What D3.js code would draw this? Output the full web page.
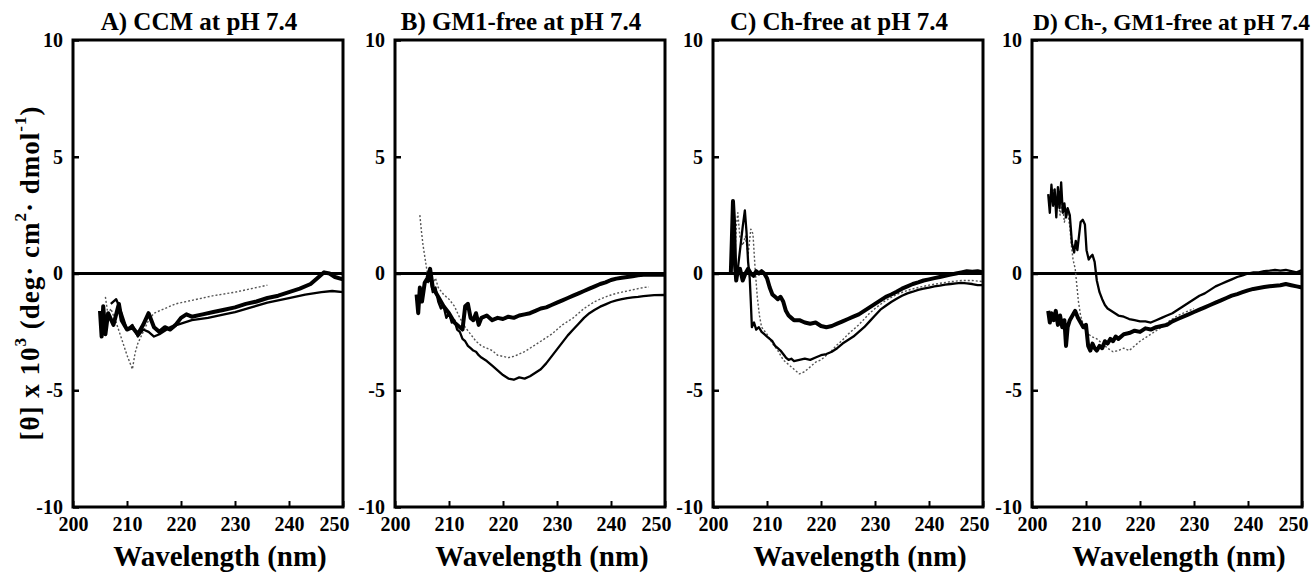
<!DOCTYPE html>
<html>
<head>
<meta charset="utf-8">
<script src="https://cdn.jsdelivr.net/npm/d3@7/dist/d3.min.js"></script>
<style>
    body { margin: 0; background: #fff; }
    text { font-family: "Liberation Serif", "Times New Roman", serif; font-weight: bold; fill: #000; }
</style>
</head>
<body>
<div id="chart"></div>
<script>

// axis ticks
const wavelengthTicks = [200, 210, 220, 230, 240, 250];
const thetaTicks = [10, 5, 0, -5, -10];

// panel titles
const panelTitles = ["A) CCM at pH 7.4", "B) GM1-free at pH 7.4", "C) Ch-free at pH 7.4", "D) Ch-, GM1-free at pH 7.4"];

// curves: [wavelength nm, theta x 10^3]
const curveA1 = [[205,-1.6],[205.3,-2.7],[205.6,-1.4],[206,-2.6],[206.5,-1.7],[207.5,-2.2],[208.5,-1.3],[209,-2.0],[210,-2.4],[211,-2.3],[212,-2.6],[213,-2.2],[214,-1.7],[215,-2.3],[216,-2.5],[217,-2.3],[218,-2.4],[219,-2.2],[220,-1.9],[221,-1.75],[222,-1.85],[224,-1.75],[226,-1.65],[228,-1.55],[230,-1.45],[232,-1.3],[234,-1.2],[236,-1.05],[238,-0.95],[240,-0.8],[242,-0.65],[244,-0.45],[245.5,-0.15],[246.5,0.05],[247.5,0.0],[248.5,-0.15],[250,-0.25]];
const curveA2 = [[207,-1.3],[208,-1.1],[209,-1.7],[210,-2.4],[211,-2.2],[212,-2.7],[213,-2.4],[214,-2.5],[215,-2.7],[216,-2.6],[217,-2.45],[218,-2.3],[220,-2.15],[222,-2.0],[225,-1.9],[228,-1.75],[230,-1.65],[233,-1.45],[236,-1.25],[240,-1.05],[243,-0.9],[246,-0.8],[248,-0.75],[250,-0.8]];
const curveA3 = [[206,-1.0],[206.5,-1.8],[207,-1.5],[208,-2.1],[209,-2.8],[210,-3.5],[211,-4.1],[211.5,-3.4],[212,-3.0],[213,-2.5],[214,-2.0],[215,-1.7],[217,-1.5],[219,-1.3],[222,-1.15],[226,-0.95],[230,-0.8],[234,-0.6],[236,-0.5]];

const curveB1 = [[204,-0.9],[204.3,-1.7],[204.6,-0.6],[205,-1.2],[205.5,-0.4],[206,-0.2],[206.5,0.2],[207,-0.6],[208,-1.0],[209,-1.4],[210,-1.7],[211,-2.1],[212,-2.3],[212.5,-2.4],[213,-1.4],[213.5,-1.3],[214,-1.9],[214.5,-2.0],[215,-1.7],[215.5,-2.2],[216,-1.9],[217,-1.8],[218,-2.0],[219,-1.9],[220,-1.95],[221,-1.85],[222,-1.9],[223,-1.8],[224,-1.75],[225,-1.7],[226,-1.6],[227,-1.5],[228,-1.45],[229,-1.35],[230,-1.25],[231,-1.15],[232,-1.05],[233,-0.95],[234,-0.85],[235,-0.75],[236,-0.65],[237,-0.55],[238,-0.45],[239,-0.38],[240,-0.28],[241,-0.22],[242,-0.18],[243,-0.15],[244,-0.12],[245,-0.08],[246,-0.05],[248,-0.05],[250,-0.05]];
const curveB2 = [[206,-0.4],[206.5,-0.2],[207,-0.8],[207.5,-0.6],[208,-1.2],[208.5,-1.5],[209,-1.4],[209.5,-1.9],[210,-1.7],[210.5,-2.1],[211,-2.0],[211.5,-2.4],[212,-2.5],[212.5,-2.8],[213,-2.9],[213.5,-3.1],[214,-3.2],[214.5,-3.3],[215,-3.35],[215.5,-3.5],[216,-3.6],[217,-3.75],[218,-3.95],[219,-4.15],[220,-4.35],[221,-4.5],[222,-4.55],[223,-4.45],[224,-4.5],[225,-4.4],[226,-4.25],[227,-4.1],[228,-3.85],[229,-3.55],[230,-3.25],[231,-2.95],[232,-2.65],[233,-2.4],[234,-2.15],[235,-1.9],[236,-1.7],[237,-1.55],[238,-1.42],[239,-1.32],[240,-1.22],[241,-1.15],[242,-1.1],[243,-1.05],[244,-1.02],[245,-1.0],[246,-0.97],[247,-0.95],[248,-0.93],[250,-0.92]];
const curveB3 = [[204.6,2.5],[204.9,1.8],[205.2,1.2],[205.6,0.6],[206,0.0],[206.5,-0.3],[207,-0.4],[207.5,-0.2],[208,-0.6],[209,-0.9],[210,-1.1],[211,-1.4],[212,-1.9],[213,-2.3],[214,-2.6],[215,-2.9],[216,-3.1],[217,-3.2],[218,-3.3],[219,-3.5],[220,-3.55],[221,-3.6],[222,-3.55],[223,-3.45],[224,-3.35],[225,-3.2],[226,-3.05],[227,-2.9],[228,-2.75],[229,-2.6],[230,-2.4],[231,-2.2],[232,-2.05],[233,-1.9],[234,-1.7],[235,-1.5],[236,-1.35],[237,-1.2],[238,-1.1],[239,-1.0],[240,-0.92],[241,-0.85],[242,-0.8],[243,-0.75],[244,-0.7],[245,-0.65],[246,-0.6],[247,-0.58]];

const curveC1 = [[203.3,0.0],[203.5,1.5],[203.7,3.1],[203.9,2.2],[204.1,0.3],[204.3,-0.3],[204.5,0.0],[205,0.2],[205.5,-0.3],[206,0.0],[206.5,0.2],[207,0.0],[207.5,-0.1],[208,0.1],[208.5,0.0],[209,0.1],[209.5,0.0],[210,-0.2],[210.5,-0.6],[211,-0.9],[211.5,-1.0],[212,-1.1],[212.5,-1.0],[213,-1.2],[213.5,-1.6],[214,-1.8],[214.5,-1.9],[215,-2.0],[216,-2.0],[217,-2.1],[218,-2.15],[219,-2.1],[220,-2.25],[221,-2.3],[222,-2.25],[223,-2.15],[224,-2.05],[225,-1.95],[226,-1.85],[227,-1.75],[228,-1.6],[229,-1.45],[230,-1.3],[231,-1.15],[232,-1.0],[233,-0.9],[234,-0.78],[235,-0.65],[236,-0.55],[237,-0.45],[238,-0.38],[239,-0.3],[240,-0.25],[241,-0.2],[242,-0.15],[243,-0.1],[244,-0.05],[245,0.0],[246,0.05],[247,0.1],[248,0.08],[249,0.1],[250,0.05]];
const curveC2 = [[204.5,0.0],[205,1.0],[205.5,2.0],[205.9,2.7],[206.2,1.8],[206.5,0.5],[206.8,-0.2],[207,-1.2],[207.2,-2.3],[207.6,-2.1],[208,-2.4],[208.5,-2.3],[209,-2.5],[209.5,-2.6],[210,-2.7],[210.5,-2.8],[211,-2.9],[211.5,-3.1],[212,-3.2],[212.5,-3.3],[213,-3.45],[213.5,-3.6],[214,-3.7],[214.5,-3.65],[215,-3.75],[216,-3.7],[217,-3.65],[218,-3.7],[219,-3.6],[220,-3.5],[221,-3.45],[222,-3.35],[223,-3.2],[224,-3.0],[225,-2.85],[226,-2.7],[227,-2.5],[228,-2.3],[229,-2.05],[230,-1.8],[231,-1.55],[232,-1.38],[233,-1.22],[234,-1.08],[235,-0.95],[236,-0.85],[237,-0.78],[238,-0.7],[239,-0.65],[240,-0.6],[241,-0.55],[242,-0.52],[243,-0.48],[244,-0.45],[245,-0.42],[246,-0.4],[247,-0.42],[248,-0.45],[249,-0.5],[250,-0.5]];
const curveC3 = [[204,0.5],[204.3,2.0],[204.6,2.6],[205,1.5],[205.5,1.2],[206,1.6],[206.5,0.8],[207,1.9],[207.4,1.7],[207.8,0.2],[208.2,-1.0],[208.6,-1.8],[209,-2.3],[210,-2.6],[211,-3.0],[212,-3.3],[213,-3.7],[214,-3.9],[215,-4.1],[216,-4.3],[217,-4.2],[218,-4.0],[219,-3.8],[220,-3.7],[221,-3.5],[222,-3.3],[223,-3.05],[224,-2.85],[225,-2.6],[226,-2.4],[227,-2.2],[228,-1.95],[229,-1.7],[230,-1.5],[232,-1.15],[234,-0.9],[236,-0.72],[238,-0.6],[240,-0.5],[242,-0.42],[244,-0.35],[246,-0.3],[248,-0.3],[250,-0.35]];

const curveD1 = [[203,3.4],[203.3,2.6],[203.6,3.8],[203.9,2.9],[204.2,3.6],[204.5,2.4],[204.8,3.7],[205.1,2.8],[205.4,3.9],[205.7,2.6],[206,3.0],[206.3,2.4],[206.6,2.8],[207,2.5],[207.4,1.3],[207.8,0.9],[208.1,1.4],[208.4,1.0],[208.7,1.6],[209,2.2],[209.4,2.3],[209.8,2.1],[210.1,1.0],[210.5,0.6],[210.8,0.7],[211.2,0.8],[211.6,0.5],[212,-0.3],[212.5,-0.8],[213,-1.1],[213.5,-1.35],[214,-1.5],[215,-1.65],[216,-1.8],[217,-1.85],[218,-1.95],[219,-2.0],[220,-2.05],[221,-2.05],[222,-2.1],[223,-2.0],[224,-1.9],[225,-1.8],[226,-1.7],[227,-1.55],[228,-1.4],[229,-1.25],[230,-1.1],[231,-0.95],[232,-0.85],[233,-0.7],[234,-0.55],[235,-0.45],[236,-0.35],[237,-0.25],[238,-0.15],[239,-0.08],[240,0.0],[241,0.05],[242,0.05],[243,0.1],[244,0.12],[245,0.15],[246,0.12],[247,0.15],[248,0.1],[249,0.05],[250,0.15]];
const curveD2 = [[203,-1.6],[203.3,-2.1],[203.6,-1.7],[204,-2.0],[204.4,-1.6],[204.8,-2.2],[205.2,-1.8],[205.6,-2.3],[206,-2.0],[206.3,-3.1],[206.6,-2.3],[207,-2.0],[207.5,-1.8],[208,-1.6],[208.5,-1.9],[209,-2.1],[209.5,-2.3],[210,-2.2],[210.4,-3.1],[210.8,-3.3],[211.2,-3.0],[211.6,-3.2],[212,-3.3],[212.5,-3.1],[213,-3.2],[213.5,-2.9],[214,-3.0],[214.5,-2.8],[215,-2.9],[215.5,-2.7],[216,-2.8],[217,-2.6],[218,-2.55],[219,-2.45],[220,-2.5],[221,-2.35],[222,-2.4],[223,-2.3],[224,-2.25],[225,-2.2],[226,-2.05],[227,-1.95],[228,-1.85],[229,-1.75],[230,-1.65],[231,-1.55],[232,-1.45],[233,-1.35],[234,-1.25],[235,-1.15],[236,-1.05],[237,-0.95],[238,-0.88],[239,-0.8],[240,-0.72],[241,-0.66],[242,-0.62],[243,-0.58],[244,-0.55],[245,-0.52],[246,-0.5],[247,-0.45],[248,-0.5],[249,-0.55],[250,-0.6]];
const curveD3 = [[204,3.6],[204.4,2.8],[204.8,3.3],[205.2,2.5],[205.6,3.0],[206,2.2],[206.5,2.8],[207,2.0],[207.3,1.2],[207.6,0.6],[208,0.2],[208.3,-0.5],[208.6,-1.2],[209,-1.8],[209.5,-2.2],[210,-2.5],[211,-2.7],[212,-2.8],[213,-3.0],[214,-3.2],[215,-3.35],[216,-3.3],[217,-3.2],[218,-3.3],[219,-3.1],[220,-2.9],[221,-2.75],[222,-2.6],[223,-2.45],[224,-2.3],[225,-2.1],[226,-1.95],[227,-1.8],[228,-1.7],[229,-1.6],[230,-1.5]];

// line styles: thick, medium, dotted grey
const lineStyles = [
    {width: 4, color: '#000', dash: null},
    {width: 2.3, color: '#000', dash: null},
    {width: 1.4, color: '#555', dash: '2,2'}
];


class CdPanel {

    constructor(svg, left, title, curves) {
        this.svg = svg;
        this.left = left;
        this.title = title;
        this.curves = curves;

        this.initVis();
    }

    initVis() {
        let vis = this;

        vis.top = 40;
        vis.width = 270;
        vis.height = 467;

        vis.g = vis.svg.append('g')
            .attr('transform', `translate(${vis.left}, ${vis.top})`);

        vis.x = d3.scaleLinear().domain([200, 250]).range([0, vis.width]);
        vis.y = d3.scaleLinear().domain([-10, 10]).range([vis.height, 0]);

        // title (the long one is pushed right so it clears the "10" label)
        let longTitle = vis.title.length > 22;
        vis.g.append('text')
            .attr('x', longTitle ? vis.width + 8 : vis.width / 2 - 9)
            .attr('y', -10)
            .attr('text-anchor', longTitle ? 'end' : 'middle')
            .attr('font-size', longTitle ? 23.5 : 25)
            .text(vis.title);

        // x axis, ticks point inward
        vis.xAxis = d3.axisBottom(vis.x)
            .tickValues(wavelengthTicks)
            .tickSizeInner(-6)
            .tickSizeOuter(0)
            .tickPadding(10)
            .tickFormat(d => String(d));

        vis.g.append('g')
            .attr('class', 'x-axis')
            .attr('transform', `translate(0, ${vis.height})`)
            .call(vis.xAxis)
            .call(g => g.select('.domain').remove())
            .call(g => g.selectAll('line').attr('stroke', '#000').attr('stroke-width', 2))
            .call(g => g.selectAll('text').attr('font-size', 20).attr('font-family', '"Liberation Serif", serif').attr('font-weight', 'bold'))
            .call(g => g.selectAll('text').filter(d => d === 250).attr('dx', -9));

        // y axis, plain hyphen for the minus as in the scan
        vis.yAxis = d3.axisLeft(vis.y)
            .tickValues(thetaTicks)
            .tickSizeInner(-6)
            .tickSizeOuter(0)
            .tickPadding(10)
            .tickFormat(d => String(d));

        vis.g.append('g')
            .attr('class', 'y-axis')
            .call(vis.yAxis)
            .call(g => g.select('.domain').remove())
            .call(g => g.selectAll('line').attr('stroke', '#000').attr('stroke-width', 2.5))
            .call(g => g.selectAll('text').attr('font-size', 20).attr('font-family', '"Liberation Serif", serif').attr('font-weight', 'bold'));

        // zero line
        vis.g.append('line')
            .attr('x1', 0)
            .attr('x2', vis.width)
            .attr('y1', vis.y(0))
            .attr('y2', vis.y(0))
            .attr('stroke', '#000')
            .attr('stroke-width', 3);

        vis.line = d3.line()
            .x(d => vis.x(d[0]))
            .y(d => vis.y(d[1]));

        // draw thin ones first so the thick ones sit on top
        vis.g.selectAll('.cd-curve')
            .data(vis.curves.map((c, i) => ({points: c, style: lineStyles[i]})).reverse())
            .enter().append('path')
            .attr('class', 'cd-curve')
            .attr('d', d => vis.line(d.points))
            .attr('fill', 'none')
            .attr('stroke', d => d.style.color)
            .attr('stroke-width', d => d.style.width)
            .attr('stroke-dasharray', d => d.style.dash)
            .attr('stroke-linejoin', 'round');

        // frame
        vis.g.append('rect')
            .attr('width', vis.width)
            .attr('height', vis.height)
            .attr('fill', 'none')
            .attr('stroke', '#000')
            .attr('stroke-width', 3);

        // x axis title
        vis.g.append('text')
            .attr('x', vis.width / 2 + 12)
            .attr('y', vis.height + 59)
            .attr('text-anchor', 'middle')
            .attr('font-size', 29)
            .text('Wavelength (nm)');
    }
}


let svg = d3.select('#chart').append('svg')
    .attr('width', 1312)
    .attr('height', 574);

let panelLefts = [73, 395, 713, 1032];
let panelCurves = [
    [curveA1, curveA2, curveA3],
    [curveB1, curveB2, curveB3],
    [curveC1, curveC2, curveC3],
    [curveD2, curveD1, curveD3]
];

panelTitles.forEach((t, i) => new CdPanel(svg, panelLefts[i], t, panelCurves[i]));

// shared y axis title
let yTitle = svg.append('text')
    .attr('transform', 'translate(30, 273) rotate(-90)')
    .attr('text-anchor', 'middle')
    .attr('dominant-baseline', 'central')
    .attr('font-size', 27)
    .attr('letter-spacing', 1);

yTitle.append('tspan').text('[θ] x 10');
yTitle.append('tspan').attr('font-size', 17).attr('dy', -10).text('3');
yTitle.append('tspan').attr('dy', 10).text(' (deg· cm');
yTitle.append('tspan').attr('font-size', 17).attr('dy', -10).text('2');
yTitle.append('tspan').attr('dy', 10).text('· dmol');
yTitle.append('tspan').attr('font-size', 17).attr('dy', -10).text('-1');
yTitle.append('tspan').attr('dy', 10).text(')');

</script>
</body>
</html>
